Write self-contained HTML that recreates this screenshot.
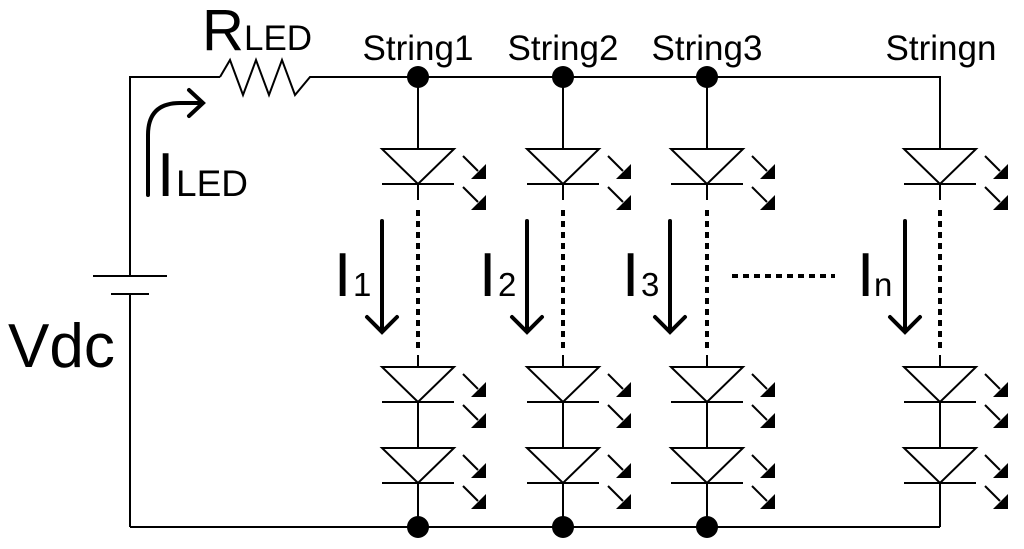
<!DOCTYPE html>
<html><head><meta charset="utf-8"><style>
html,body{margin:0;padding:0;background:#fff;}
svg{display:block;}
text{font-family:"Liberation Sans",Arial,sans-serif;fill:#000;}
.s{font-size:35px;}
.b{font-size:62px;}
.sub{font-size:33px;}
</style></head><body>
<svg width="1024" height="549" viewBox="0 0 1024 549" xmlns="http://www.w3.org/2000/svg">
<defs>
<g id="led" stroke="#000" stroke-width="2" fill="none">
  <polygon points="-36,0 36,0 0,35" fill="#fff"/>
  <line x1="-36" y1="35" x2="36" y2="35"/>
  <line x1="45" y1="7" x2="60" y2="22"/>
  <polygon points="68,30 68,15 53,30" fill="#000" stroke="none"/>
  <line x1="45" y1="38" x2="60" y2="53"/>
  <polygon points="68,61 68,46 53,61" fill="#000" stroke="none"/>
</g>
<g id="iarrow" stroke="#000" stroke-width="4" fill="none" stroke-linecap="round">
  <line x1="0" y1="0" x2="0" y2="110"/>
  <polyline points="-15,96 0,111 15,96"/>
</g>
</defs>
<g stroke="#000" stroke-width="2" fill="none">
  <polyline points="220,77 130,77 130,276"/>
  <line x1="130" y1="294" x2="130" y2="527"/>
  <line x1="93" y1="276" x2="167" y2="276"/>
  <line x1="111" y1="294" x2="149" y2="294"/>
  <polyline points="220,77 230,60 243,95 256,60 269,95 282,60 295,95 310,77 940,77 940,149"/>
  <line x1="130" y1="527" x2="940" y2="527"/>
  <line x1="418" y1="77" x2="418" y2="149"/><line x1="563" y1="77" x2="563" y2="149"/><line x1="707" y1="77" x2="707" y2="149"/>
  <line x1="418" y1="184" x2="418" y2="200"/><line x1="563" y1="184" x2="563" y2="200"/><line x1="707" y1="184" x2="707" y2="200"/><line x1="940" y1="184" x2="940" y2="200"/>
  <line x1="418" y1="355" x2="418" y2="527"/><line x1="563" y1="355" x2="563" y2="527"/><line x1="707" y1="355" x2="707" y2="527"/><line x1="940" y1="355" x2="940" y2="527"/>
</g>
<g stroke="#000" stroke-width="4" stroke-dasharray="6,5" fill="none">
  <line x1="418" y1="210" x2="418" y2="350"/><line x1="563" y1="210" x2="563" y2="350"/><line x1="707" y1="210" x2="707" y2="350"/><line x1="940" y1="210" x2="940" y2="350"/>
  <line x1="732" y1="276" x2="835" y2="276"/>
</g>
<g>
  <use href="#led" x="418" y="149"/><use href="#led" x="563" y="149"/><use href="#led" x="707" y="149"/><use href="#led" x="940" y="149"/>
  <use href="#led" x="418" y="367"/><use href="#led" x="563" y="367"/><use href="#led" x="707" y="367"/><use href="#led" x="940" y="367"/>
  <use href="#led" x="418" y="448"/><use href="#led" x="563" y="448"/><use href="#led" x="707" y="448"/><use href="#led" x="940" y="448"/>
</g>
<g fill="#000">
  <circle cx="418" cy="77" r="11"/><circle cx="563" cy="77" r="11"/><circle cx="707" cy="77" r="11"/>
  <circle cx="418" cy="527" r="11"/><circle cx="563" cy="527" r="11"/><circle cx="707" cy="527" r="11"/>
</g>
<use href="#iarrow" x="382" y="221"/><use href="#iarrow" x="527" y="221"/><use href="#iarrow" x="670" y="221"/><use href="#iarrow" x="905" y="221"/>
<g stroke="#000" stroke-width="4" fill="none" stroke-linecap="round">
  <path d="M148,195 L148,135 Q148,103 180,103 L200,103"/>
  <polyline points="189,90 203,103 189,116"/>
</g>
<text x="202" y="50" style="font-size:58px">R</text><text x="244" y="50" style="font-size:35px">LED</text>
<text x="157" y="196" style="font-size:62px">I</text><text x="176" y="196" style="font-size:37px">LED</text>
<text x="8" y="367" style="font-size:62px">Vdc</text>
<text class="s" x="418" y="60" text-anchor="middle">String1</text>
<text class="s" x="563" y="60" text-anchor="middle">String2</text>
<text class="s" x="707" y="60" text-anchor="middle">String3</text>
<text class="s" x="941" y="60" text-anchor="middle">Stringn</text>
<text class="b" x="334" y="296">I</text><text class="b" x="479" y="296">I</text><text class="b" x="622" y="296">I</text><text class="b" x="857" y="296">I</text>
<text class="sub" x="353" y="296">1</text><text class="sub" x="498" y="296">2</text><text class="sub" x="641" y="296">3</text><text class="sub" x="874" y="296">n</text>
</svg>
</body></html>
